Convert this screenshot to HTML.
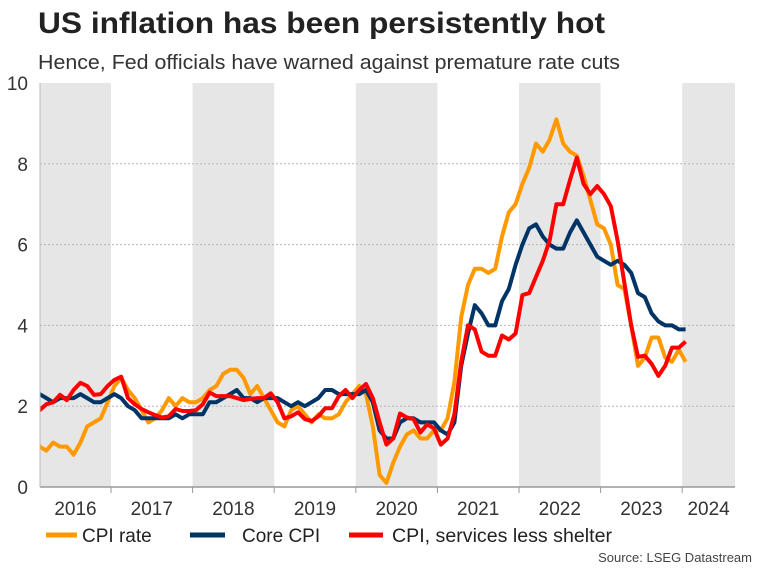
<!DOCTYPE html>
<html><head><meta charset="utf-8">
<style>
html,body{margin:0;padding:0;background:#fff;}
body{width:757px;height:568px;overflow:hidden;font-family:"Liberation Sans",Arial,sans-serif;}
</style></head>
<body>
<svg id="chart" width="757" height="568" viewBox="0 0 757 568" xmlns="http://www.w3.org/2000/svg" font-family="Liberation Sans, Arial, sans-serif">
<text x="38" y="33" font-size="30" font-weight="bold" fill="#222" textLength="567" lengthAdjust="spacingAndGlyphs">US inflation has been persistently hot</text>
<text x="38" y="69" font-size="20" fill="#333" textLength="582" lengthAdjust="spacingAndGlyphs">Hence, Fed officials have warned against premature rate cuts</text>
<g id="bands"></g>
<g id="grid"></g>
<g id="series"></g>
<g id="axes"></g>
<g>
<line x1="46" y1="535" x2="77" y2="535" stroke="#ff9900" stroke-width="5"/>
<text x="82" y="542" font-size="19" fill="#222">CPI rate</text>
<line x1="190" y1="535" x2="225" y2="535" stroke="#003366" stroke-width="5"/>
<text x="242" y="542" font-size="19" fill="#222">Core CPI</text>
<line x1="349" y1="535" x2="383" y2="535" stroke="#ff0000" stroke-width="5"/>
<text x="392" y="542" font-size="19" fill="#222" textLength="220" lengthAdjust="spacingAndGlyphs">CPI, services less shelter</text>
</g>
<text x="752" y="562" font-size="13" fill="#444" text-anchor="end">Source: LSEG Datastream</text>
</svg>
<script>
// Monthly data, Jan 2016 .. Jan 2024
const startYear = 2016;
const cpiRate = [1.4,1.0,0.9,1.1,1.0,1.0,0.8,1.1,1.5,1.6,1.7,2.1,
2.5,2.7,2.4,2.2,1.9,1.6,1.7,1.9,2.2,2.0,2.2,2.1,
2.1,2.2,2.4,2.5,2.8,2.9,2.9,2.7,2.3,2.5,2.2,1.9,
1.6,1.5,1.9,2.0,1.8,1.6,1.8,1.7,1.7,1.8,2.1,2.3,
2.5,2.3,1.5,0.3,0.1,0.6,1.0,1.3,1.4,1.2,1.2,1.4,
1.4,1.7,2.6,4.2,5.0,5.4,5.4,5.3,5.4,6.2,6.8,7.0,
7.5,7.9,8.5,8.3,8.6,9.1,8.5,8.3,8.2,7.7,7.1,6.5,
6.4,6.0,5.0,4.9,4.0,3.0,3.2,3.7,3.7,3.2,3.1,3.4,
3.1];
const coreCpi = [2.2,2.3,2.2,2.1,2.2,2.2,2.2,2.3,2.2,2.1,2.1,2.2,
2.3,2.2,2.0,1.9,1.7,1.7,1.7,1.7,1.7,1.8,1.7,1.8,
1.8,1.8,2.1,2.1,2.2,2.3,2.4,2.2,2.2,2.1,2.2,2.2,
2.2,2.1,2.0,2.1,2.0,2.1,2.2,2.4,2.4,2.3,2.3,2.3,
2.3,2.4,2.1,1.4,1.2,1.2,1.6,1.7,1.7,1.6,1.6,1.6,
1.4,1.3,1.6,3.0,3.8,4.5,4.3,4.0,4.0,4.6,4.9,5.5,
6.0,6.4,6.5,6.2,6.0,5.9,5.9,6.3,6.6,6.3,6.0,5.7,
5.6,5.5,5.6,5.5,5.3,4.8,4.7,4.3,4.1,4.0,4.0,3.9,
3.9];
const servicesLessShelter = [1.9,1.9,2.05,2.1,2.28,2.15,2.4,2.58,2.5,2.28,2.3,2.5,
2.65,2.73,2.2,2.05,1.93,1.85,1.78,1.72,1.75,1.93,1.88,1.88,
1.9,2.05,2.34,2.25,2.25,2.25,2.2,2.15,2.18,2.2,2.2,2.32,
2.1,1.7,1.75,1.85,1.68,1.63,1.75,1.95,1.95,2.25,2.4,2.2,
2.4,2.55,2.2,1.6,1.05,1.2,1.82,1.72,1.68,1.35,1.55,1.45,
1.05,1.2,1.8,3.1,4.0,3.9,3.35,3.25,3.25,3.75,3.65,3.8,
4.75,4.8,5.2,5.6,6.1,7.0,7.0,7.6,8.15,7.5,7.25,7.45,
7.25,6.95,6.1,5.05,4.0,3.22,3.25,3.05,2.75,3.0,3.45,3.45,
3.6];
const yTicks = [0,2,4,6,8,10];
const yearLabels = ["2016","2017","2018","2019","2020","2021","2022","2023","2024"];

const NS = "http://www.w3.org/2000/svg";
const plotL = 40, plotR = 735, plotT = 83, plotB = 487;
const yearW = 81.6, year0X = 29.4;
function xYear(y){ return year0X + (y - startYear) * yearW; }
function xMonth(i){ return year0X + (i + 0.5) * yearW / 12; }
function yVal(v){ return plotB - v * (plotB - plotT) / 10; }
function mk(tag, attrs, parent){ const e = document.createElementNS(NS, tag); for (const k in attrs) e.setAttribute(k, attrs[k]); parent.appendChild(e); return e; }

const bands = document.getElementById('bands');
yearLabels.forEach((lab, k) => {
  if (k % 2 === 0) {
    const x0 = Math.max(plotL, xYear(startYear + k)), x1 = Math.min(plotR, xYear(startYear + k + 1));
    const r = mk('rect', {x: x0, y: plotT, width: x1 - x0, height: plotB - plotT, fill: '#e6e6e6'}, bands);
    
    
  }
});

const grid = document.getElementById('grid');
const axes = document.getElementById('axes');
yTicks.forEach(t => {
  if (t > 0 && t < 10) {
    const g = mk('line', {x1: plotL, x2: plotR, y1: yVal(t), y2: yVal(t), stroke: '#b5b5b5', 'stroke-width': 1, 'stroke-dasharray': '2,2'}, grid);
    
    
  }
  const tx = mk('text', {x: 28, y: yVal(t) + 7, 'font-size': 19, fill: '#333', 'text-anchor': 'end'}, axes);
  tx.textContent = t;
  
  
});

const ax = mk('line', {x1: plotL, x2: plotR, y1: plotB, y2: plotB, stroke: '#999', 'stroke-width': 1.5}, axes);


const ay = mk('line', {x1: plotL, x2: plotL, y1: plotT, y2: plotB, stroke: '#bbb', 'stroke-width': 1}, axes);



yearLabels.forEach((lab, k) => {
  const xb = xYear(startYear + k);
  if (xb > plotL && xb < plotR) {
    const tk = mk('line', {x1: xb, x2: xb, y1: plotB, y2: plotB + 6, stroke: '#999', 'stroke-width': 1}, axes);
    
    
  }
  const c = (Math.max(plotL, xb) + Math.min(plotR, xYear(startYear + k + 1))) / 2;
  const tx = mk('text', {x: c, y: 515, 'font-size': 19, fill: '#333', 'text-anchor': 'middle'}, axes);
  tx.textContent = lab;
  
  
});

const series = document.getElementById('series');
const cp = mk('clipPath', {id: 'clip'}, series);
mk('rect', {x: plotL, y: plotT - 10, width: plotR - plotL, height: plotB - plotT + 20}, cp);
function drawLine(arr, color, name){
  const d = arr.map((v, i) => (i ? 'L' : 'M') + xMonth(i).toFixed(1) + ' ' + yVal(v).toFixed(1)).join(' ');
  const p = mk('path', {d: d, fill: 'none', stroke: color, 'stroke-width': 4, 'stroke-linejoin': 'round', 'clip-path': 'url(#clip)'}, series);
  
  
}
drawLine(cpiRate, '#ff9900', 'cpi-rate-line');
drawLine(coreCpi, '#003366', 'core-cpi-line');
drawLine(servicesLessShelter, '#ff0000', 'services-less-shelter-line');
</script>
</body></html>
